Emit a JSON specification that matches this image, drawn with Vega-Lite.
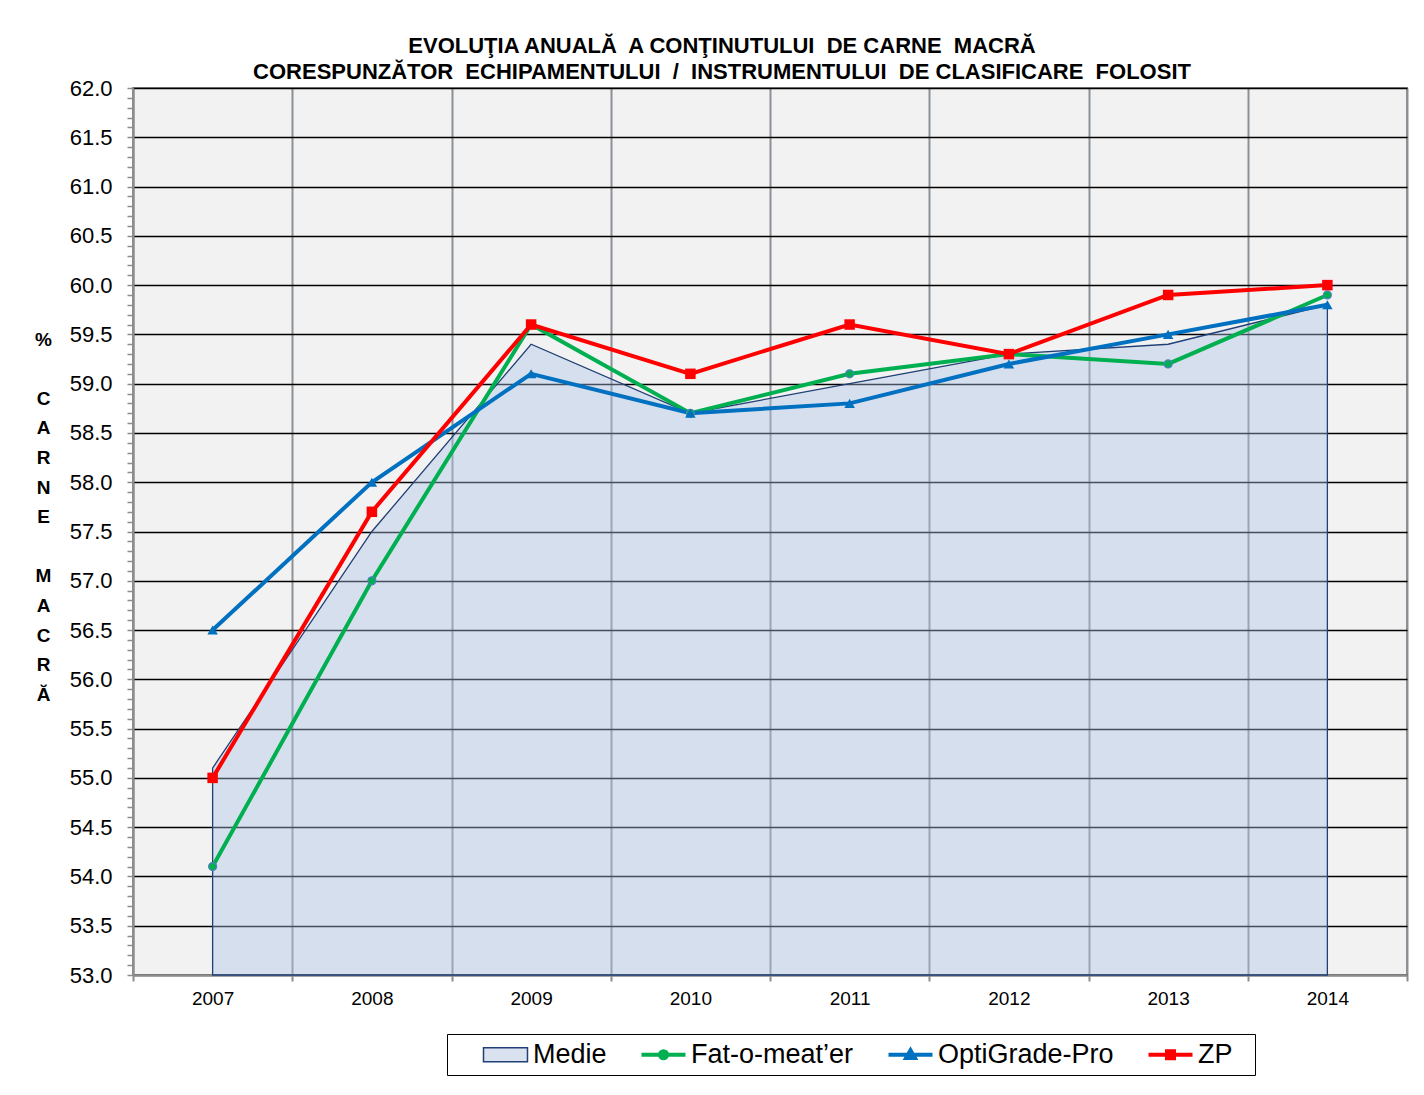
{
  "$schema": "https://vega.github.io/schema/vega-lite/v6.json",
  "width": 1274,
  "height": 887,
  "autosize": {"type": "none"},
  "padding": {"left": 133, "top": 88, "right": 17, "bottom": 120},
  "background": "white",
  "title": {
    "text": ["EVOLUŢIA ANUALĂ\u00a0 A CONŢINUTULUI\u00a0 DE CARNE\u00a0 MACRĂ", "CORESPUNZĂTOR\u00a0 ECHIPAMENTULUI\u00a0 /\u00a0 INSTRUMENTULUI\u00a0 DE CLASIFICARE\u00a0 FOLOSIT"],
    "anchor": "middle",
    "frame": "group",
    "dx": -48,
    "dy": 34,
    "baseline": "bottom",
    "offset": 5,
    "fontSize": 22,
    "lineHeight": 26,
    "font": "Liberation Sans",
    "fontWeight": "bold",
    "color": "#000000"
  },
  "config": {
    "font": "Liberation Sans",
    "view": {"stroke": "#8c8c8c", "strokeWidth": 2, "fill": "#f2f2f2"}
  },
  "data": {
    "values": [
      {"year": "2007", "series": "Medie", "value": 55.1},
      {"year": "2008", "series": "Medie", "value": 57.5},
      {"year": "2009", "series": "Medie", "value": 59.4},
      {"year": "2010", "series": "Medie", "value": 58.7},
      {"year": "2011", "series": "Medie", "value": 59.0},
      {"year": "2012", "series": "Medie", "value": 59.3},
      {"year": "2013", "series": "Medie", "value": 59.4},
      {"year": "2014", "series": "Medie", "value": 59.8},
      {"year": "2007", "series": "Fat-o-meat’er", "value": 54.1},
      {"year": "2008", "series": "Fat-o-meat’er", "value": 57.0},
      {"year": "2009", "series": "Fat-o-meat’er", "value": 59.6},
      {"year": "2010", "series": "Fat-o-meat’er", "value": 58.7},
      {"year": "2011", "series": "Fat-o-meat’er", "value": 59.1},
      {"year": "2012", "series": "Fat-o-meat’er", "value": 59.3},
      {"year": "2013", "series": "Fat-o-meat’er", "value": 59.2},
      {"year": "2014", "series": "Fat-o-meat’er", "value": 59.9},
      {"year": "2007", "series": "OptiGrade-Pro", "value": 56.5},
      {"year": "2008", "series": "OptiGrade-Pro", "value": 58.0},
      {"year": "2009", "series": "OptiGrade-Pro", "value": 59.1},
      {"year": "2010", "series": "OptiGrade-Pro", "value": 58.7},
      {"year": "2011", "series": "OptiGrade-Pro", "value": 58.8},
      {"year": "2012", "series": "OptiGrade-Pro", "value": 59.2},
      {"year": "2013", "series": "OptiGrade-Pro", "value": 59.5},
      {"year": "2014", "series": "OptiGrade-Pro", "value": 59.8},
      {"year": "2007", "series": "ZP", "value": 55.0},
      {"year": "2008", "series": "ZP", "value": 57.7},
      {"year": "2009", "series": "ZP", "value": 59.6},
      {"year": "2010", "series": "ZP", "value": 59.1},
      {"year": "2011", "series": "ZP", "value": 59.6},
      {"year": "2012", "series": "ZP", "value": 59.3},
      {"year": "2013", "series": "ZP", "value": 59.9},
      {"year": "2014", "series": "ZP", "value": 60.0}
    ]
  },
  "encoding": {
    "x": {
      "field": "year",
      "type": "ordinal",
      "scale": {"type": "band", "paddingInner": 0, "paddingOuter": 0},
      "axis": {
        "title": null,
        "labelAngle": 0,
        "labelFontSize": 19,
        "labelColor": "#000000",
        "labelPadding": 8,
        "tickBand": "extent",
        "grid": true,
        "gridColor": "#8c9197",
        "gridWidth": 2,
        "tickColor": "#8c8c8c",
        "tickWidth": 2,
        "tickSize": 6,
        "domainColor": "#8c8c8c",
        "domainWidth": 2
      }
    },
    "y": {
      "field": "value",
      "type": "quantitative",
      "scale": {"domain": [53, 62], "zero": false, "nice": false},
      "axis": {
        "values": [53,53.1,53.2,53.3,53.4,53.5,53.6,53.7,53.8,53.9,54,54.1,54.2,54.3,54.4,54.5,54.6,54.7,54.8,54.9,55,55.1,55.2,55.3,55.4,55.5,55.6,55.7,55.8,55.9,56,56.1,56.2,56.3,56.4,56.5,56.6,56.7,56.8,56.9,57,57.1,57.2,57.3,57.4,57.5,57.6,57.7,57.8,57.9,58,58.1,58.2,58.3,58.4,58.5,58.6,58.7,58.8,58.9,59,59.1,59.2,59.3,59.4,59.5,59.6,59.7,59.8,59.9,60,60.1,60.2,60.3,60.4,60.5,60.6,60.7,60.8,60.9,61,61.1,61.2,61.3,61.4,61.5,61.6,61.7,61.8,61.9,62],
        "labelExpr": "round(datum.value*10) % 5 === 0 ? format(datum.value, '.1f') : ''",
        "labelOverlap": false,
        "labelBound": false,
        "labelFlush": false,
        "labelFontSize": 22,
        "labelColor": "#000000",
        "labelPadding": 15,
        "tickSize": 6,
        "tickColor": "#8c8c8c",
        "tickWidth": 1.5,
        "domainColor": "#8c8c8c",
        "domainWidth": 2,
        "grid": true,
        "gridWidth": 1.6,
        "gridColor": {"condition": {"test": "round(datum.value*10) % 5 === 0", "value": "#000000"}, "value": "transparent"},
        "title": ["%", "\u200b", "C", "A", "R", "N", "E", "\u200b", "M", "A", "C", "R", "Ă"],
        "titleAngle": 0,
        "titleX": -90,
        "titleY": 251,
        "titleAlign": "center",
        "titleBaseline": "middle",
        "titleFontSize": 19,
        "titleFontWeight": "bold",
        "titleLineHeight": 29.6,
        "titleColor": "#000000"
      }
    }
  },
  "layer": [
    {
      "transform": [{"filter": "datum.series === 'Medie'"}],
      "mark": {"type": "area", "fill": "#adc4e9", "fillOpacity": 0.4, "stroke": "#203f74", "strokeWidth": 1.3},
      "encoding": {"y2": {"datum": 53}}
    },
    {
      "transform": [{"filter": "datum.series !== 'Medie'"}],
      "mark": {"type": "line", "strokeWidth": 4},
      "encoding": {
        "color": {
          "field": "series",
          "type": "nominal",
          "scale": {"domain": ["Medie", "Fat-o-meat’er", "OptiGrade-Pro", "ZP"], "range": ["#203f74", "#00b050", "#0070c0", "#ff0000"]},
          "legend": {
            "orient": "none",
            "direction": "horizontal",
            "legendX": 314,
            "legendY": 946,
            "title": null,
            "padding": 7,
            "strokeColor": "#000000",
            "fillColor": "#ffffff",
            "columnPadding": 5,
            "labelFontSize": 27,
            "labelColor": "#000000",
            "symbolOffset": 38,
            "labelOffset": 14,
            "labelLimit": 300,
            "symbolSize": 1936,
            "labelExpr": "datum.label === 'ZP' ? 'ZP\u00a0\u00a0\u200b' : datum.label",
            "encode": {
              "symbols": {
                "update": {
                  "shape": {"signal": "datum.value === 'Medie' ? 'M-1,-0.32H1V0.32H-1Z' : datum.value === 'ZP' ? 'M-1,0H1M-0.16,-0.16H0.16V0.16H-0.16Z' : datum.value === 'OptiGrade-Pro' ? 'M-1,0H1M-0.2,0.15L0,-0.2L0.2,0.15Z' : 'M-1,0H1M0.16,0A0.16,0.16,0,1,1,-0.16,0A0.16,0.16,0,1,1,0.16,0Z'"},
                  "fill": {"signal": "datum.value === 'Medie' ? '#dae2ef' : datum.value === 'ZP' ? '#ff0000' : datum.value === 'OptiGrade-Pro' ? '#0070c0' : '#00b050'"},
                  "stroke": {"signal": "datum.value === 'Medie' ? '#203f74' : datum.value === 'ZP' ? '#ff0000' : datum.value === 'OptiGrade-Pro' ? '#0070c0' : '#00b050'"},
                  "strokeWidth": {"signal": "datum.value === 'Medie' ? 1.5 : 4"},
                  "opacity": {"value": 1},
                  "fillOpacity": {"value": 1}
                }
              }
            }
          }
        }
      }
    },
    {
      "transform": [{"filter": "datum.series === 'Fat-o-meat’er'"}],
      "mark": {"type": "point", "shape": "circle", "filled": true, "fill": "#00b050", "stroke": "#4f81bd", "strokeWidth": 1.2, "size": 64, "opacity": 1}
    },
    {
      "transform": [{"filter": "datum.series === 'OptiGrade-Pro'"}],
      "mark": {"type": "point", "shape": "triangle-up", "filled": true, "fill": "#0070c0", "size": 110, "opacity": 1}
    },
    {
      "transform": [{"filter": "datum.series === 'ZP'"}],
      "mark": {"type": "point", "shape": "square", "filled": true, "fill": "#ff0000", "size": 110, "opacity": 1}
    }
  ]
}
